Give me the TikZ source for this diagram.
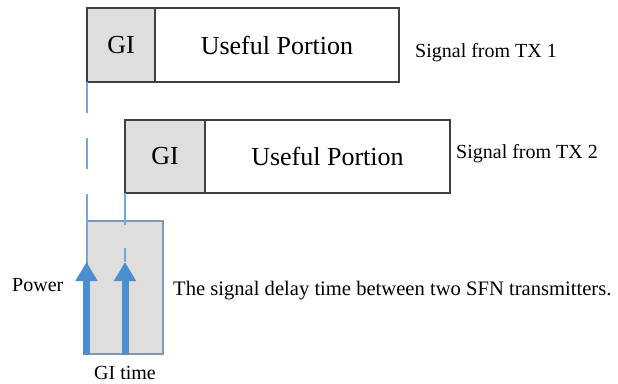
\documentclass[tikz,border=0pt]{standalone}
\usepackage{fontspec}
\setmainfont{Liberation Serif}
\usetikzlibrary{positioning, calc, arrows.meta}

\definecolor{gifill}{RGB}{224,222,221}
\definecolor{arrowblue}{RGB}{74,144,208}
\definecolor{lineblue}{RGB}{112,168,218}
\definecolor{edgeblue}{RGB}{125,152,182}

\begin{document}
\begin{tikzpicture}[x=1pt, y=-1pt]
\useasboundingbox (0,0) rectangle (618,383);

\pgfmathsetmacro{\BH}{74}
\pgfmathsetmacro{\TIP}{262}

\tikzset{
  cell/.style={draw=black!75, line width=1.1pt, inner sep=0pt, outer sep=0pt,
    minimum height=\BH pt, font=\fontsize{26}{30}\selectfont},
  gicell/.style={cell, fill=gifill},
  upcell/.style={cell, fill=white},
  lbl/.style={inner sep=0pt, font=\fontsize{20}{24}\selectfont},
  power/.style={line width=7pt, draw=arrowblue, -{Triangle[width=21pt, length=19pt]}},
  guide/.style={line width=1.4pt, draw=lineblue},
}

% signal from the first transmitter
\node [gicell, minimum width=68pt] (GIa) at (121, 45) {GI};
\node [upcell, minimum width=244pt, right=0pt of GIa] (UPa) {Useful Portion};
\node [lbl, anchor=base west] (TXa) at (415, 57) {Signal from TX 1};

% signal from the second transmitter, delayed
\node [gicell, minimum width=80pt, minimum height=73pt] (GIb) at (165, 156.5) {GI};
\node [upcell, minimum width=245pt, minimum height=73pt, right=0pt of GIb] (UPb) {Useful Portion};
\node [lbl, anchor=base west] (TXb) at (456, 158) {Signal from TX 2};

% guard interval window
\node [draw=edgeblue, fill=gifill, line width=1.2pt, inner sep=0pt,
  minimum width=76pt, minimum height=133pt] (win) at (125, 287.5) {};

% arrival instants
\coordinate (Pa) at (GIa.south west |- 0, \TIP);
\coordinate (Pb) at (GIb.south west |- 0, \TIP);
\coordinate (Ma) at (GIa.south west |- 0, 170);
\coordinate (Na) at (GIa.south west |- 0, 194);
\coordinate (Ba) at ($(Pa) + (-0.5, 93)$);
\coordinate (Bb) at ($(Pb) + (0, 93)$);

\draw [guide, dash pattern=on 31pt off 25pt] (GIa.south west) -- (Ma);
\draw [guide] (Na) -- (Pa);
\draw [guide, dash pattern=on 32pt off 23pt] (GIb.south west) -- (Pb);

\draw [power] (Ba) -- ($(Pa) + (-0.5, 0)$);
\draw [power] (Bb) -- (Pb);

\node [lbl, anchor=base west] (pw) at (12, 291) {Power};
\node [lbl, anchor=base west, font=\fontsize{20.6}{24}\selectfont] (delay) at (173, 295)
  {The signal delay time between two SFN transmitters.};
\node [lbl, anchor=base] (git) at (125, 379) {GI time};

\end{tikzpicture}
\end{document}
